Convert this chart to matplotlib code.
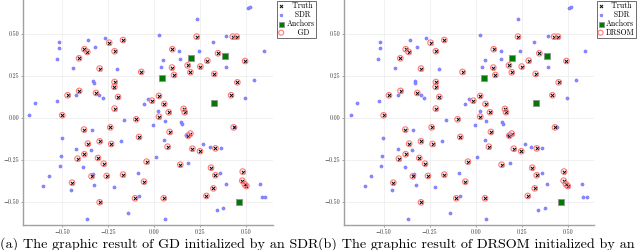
import matplotlib
matplotlib.use("Agg")
import matplotlib.pyplot as plt

plt.rcParams['font.family'] = ['cmr10', 'DejaVu Serif']
plt.rcParams['mathtext.fontset'] = 'cm'
plt.rcParams['axes.unicode_minus'] = True

# ---- data ----
truth_x = [-0.500, -0.471, -0.408, -0.409, -0.380, -0.364, -0.317, -0.297, -0.245, -0.216,
           -0.170, -0.216, -0.217, -0.197, -0.216, -0.098, -0.071, -0.013, 0.025, 0.025,
           0.230, 0.426, 0.447, 0.098, 0.346, 0.288, 0.493, 0.181, 0.250, 0.096,
           0.196, 0.107, 0.326, 0.451, 0.417, 0.054, 0.159, 0.165, 0.078,
           -0.382, -0.239, -0.083, -0.297, -0.361, -0.234, -0.380, -0.417, -0.306, -0.275,
           -0.042, -0.341, -0.259, -0.170, -0.056, -0.447, -0.105, -0.297,
           0.083, 0.196, 0.183, 0.431, 0.072, 0.207, 0.248, 0.332, 0.141, 0.308,
           0.332, 0.480, 0.478, 0.491, 0.500, 0.321, 0.283, 0.051]
truth_y = [0.016, 0.135, 0.161, 0.355, 0.409, 0.393, 0.149, 0.294, 0.448, 0.397,
           0.464, 0.214, 0.185, 0.125, 0.056, -0.008, 0.274, 0.103, 0.131, 0.008,
           0.484, 0.484, 0.484, 0.409, 0.385, 0.341, 0.339, 0.313, 0.306, 0.300,
           0.272, 0.256, 0.262, 0.212, 0.135, 0.083, 0.054, 0.034, 0.034,
           -0.069, -0.056, -0.113, -0.139, -0.153, -0.155, -0.216, -0.242, -0.238, -0.272,
           -0.260, -0.347, -0.345, -0.337, -0.379, -0.385, -0.478, -0.502,
           -0.083, -0.093, -0.105, -0.056, -0.171, -0.183, -0.198, -0.181, -0.278, -0.296,
           -0.341, -0.319, -0.373, -0.395, -0.405, -0.419, -0.464, -0.478]

sdr_x = [-0.679, -0.647, -0.527, -0.518, -0.518, -0.529, -0.440, -0.359, -0.321, -0.268,
         -0.332, -0.328, -0.424, -0.299, -0.281, -0.201, -0.163, -0.058, -0.034, 0.025,
         0.022, -0.005,
         0.507, 0.520, 0.230, 0.391, 0.317, 0.596, 0.241, 0.136, 0.049, 0.139,
         0.036, 0.391, 0.543, 0.495, 0.058, 0.145, 0.149,
         -0.339, -0.502, -0.424, -0.346, -0.183, -0.509, -0.513, -0.386, -0.571, -0.603,
         -0.455, -0.326, -0.333, -0.219, -0.089, -0.085, -0.141, -0.368, 0.007,
         0.053, 0.174, 0.266, 0.303, 0.362, 0.185, 0.359, 0.388, 0.576, 0.585,
         0.603, 0.375, 0.341, 0.056, 0.440]
sdr_y = [0.018, 0.091, 0.101, 0.454, 0.419, 0.353, 0.300, 0.462, 0.421, 0.476,
         0.220, 0.208, 0.135, 0.135, 0.117, 0.294, -0.014, 0.081, 0.111, 0.494,
         0.042, -0.040,
         0.653, 0.659, 0.591, 0.490, 0.452, 0.397, 0.401, 0.401, 0.345, 0.349,
         0.306, 0.306, 0.226, 0.117, -0.016, -0.022, -0.036,
         -0.071, -0.121, -0.183, -0.192, -0.135, -0.224, -0.284, -0.290, -0.345, -0.405,
         -0.429, -0.399, -0.333, -0.411, -0.329, -0.464, -0.567, -0.603, -0.230,
         -0.129, -0.099, -0.155, -0.173, -0.179, -0.270, -0.329, -0.395, -0.395, -0.468,
         -0.468, -0.538, -0.550, -0.603, -0.054]

anchor_x = [0.197, 0.386, 0.043, 0.326, 0.462]
anchor_y = [0.355, 0.371, 0.240, 0.087, -0.498]

# both solvers recover the true positions (circles sit on the crosses)
gd_x, gd_y = list(truth_x), list(truth_y)
drsom_x, drsom_y = list(truth_x), list(truth_y)

ticks = [-0.50, -0.25, 0.00, 0.25, 0.50]
tick_labels = ["\u22120.50", "\u22120.25", "0.00", "0.25", "0.50"]

method_names = ["GD", "DRSOM"]
captions = ["(a) The graphic result of GD initialized by an SDR",
            "(b) The graphic result of DRSOM initialized by an"]

W, H = 640, 250
fig = plt.figure(figsize=(6.4, 2.5), dpi=100)

panels = [
    dict(left=22.7, est=(gd_x, gd_y), name=method_names[0], leg_x=277.3, cap_x=0.0),
    dict(left=344.0, est=(drsom_x, drsom_y), name=method_names[1], leg_x=596.7, cap_x=317.5),
]

for i, p in enumerate(panels):
    ax = fig.add_axes([p['left'] / W, 25 / H, 250 / W, 225 / H])
    ax.set_xlim(-0.715, 0.643)
    ax.set_ylim(-0.637, 0.702)
    ax.grid(True, color='#ececec', linewidth=0.5)
    ax.set_axisbelow(True)
    for s in ['top', 'right']:
        ax.spines[s].set_visible(False)
    for s in ['left', 'bottom']:
        ax.spines[s].set_color('#a0a0a0')
        ax.spines[s].set_linewidth(1.0)
    ax.set_xticks(ticks)
    ax.set_xticklabels(tick_labels)
    ax.set_yticks(ticks)
    ax.set_yticklabels(tick_labels)
    ax.tick_params(labelsize=4.3, length=1.5, width=0.5, color='#808080',
                   pad=1.2, labelcolor='#333333')

    h1 = ax.scatter(truth_x, truth_y, marker='x', s=6, c='black', linewidths=0.7,
                    label='Truth', zorder=4)
    h2 = ax.scatter(sdr_x, sdr_y, marker='o', s=5, c='#8c8cff', edgecolors='#6c6cff',
                    linewidths=0.4, label='SDR', zorder=3)
    h3 = ax.scatter(anchor_x, anchor_y, marker='s', s=16, c='#007a00', edgecolors='#909090',
                    linewidths=0.6, label='Anchors', zorder=5)
    ex, ey = p['est']
    h4 = ax.scatter(ex, ey, marker='o', s=16, facecolors='none', edgecolors='#ff7878',
                    linewidths=0.8, label=p['name'], zorder=4)

    labels = ['  Truth', '   SDR', 'Anchors', '    ' + p['name'] if p['name'] == 'GD' else p['name']]
    leg = ax.legend([h1, h2, h3, h4], labels,
                    loc='upper left', bbox_to_anchor=(p['leg_x'] / W, 0.997),
                    bbox_transform=fig.transFigure, fontsize=5.6, frameon=True,
                    fancybox=False, edgecolor='#555555', framealpha=1.0,
                    borderpad=0.15, labelspacing=0.05, handlelength=0.7,
                    handletextpad=0.35, borderaxespad=0.0, markerscale=0.9)
    leg.get_frame().set_linewidth(0.6)

    fig.text(p['cap_x'] / W, 2.2 / H, captions[i], fontsize=10.2, ha='left',
             va='baseline', color='black')

fig.savefig('out.png', dpi=100)
